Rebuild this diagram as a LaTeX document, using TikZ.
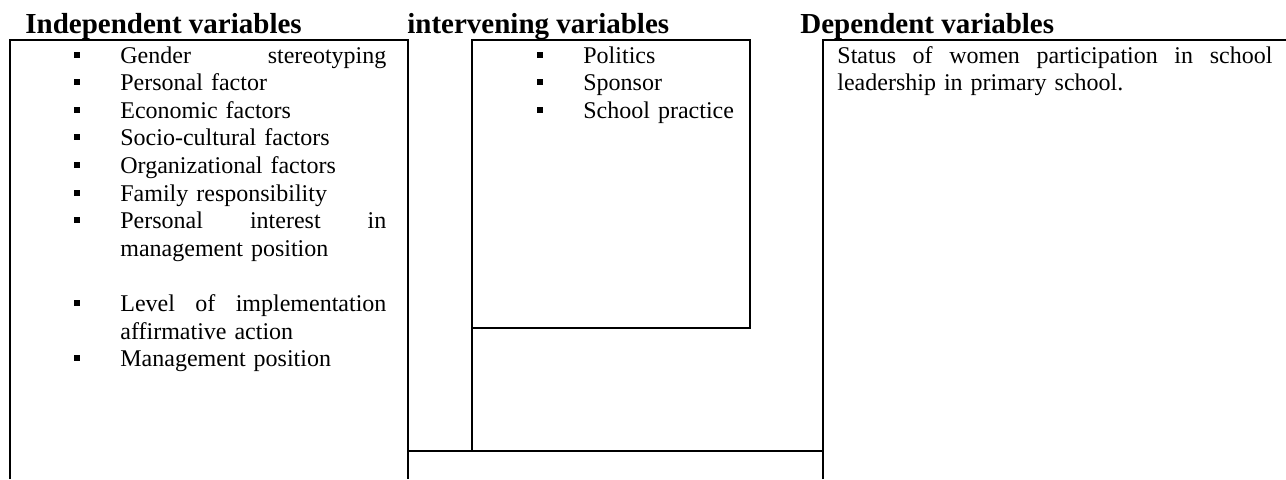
\documentclass[tikz,border=0pt]{standalone}
\usepackage{fontspec}
\setmainfont{Liberation Serif}

\tikzset{
  heading/.style={anchor=base west, inner sep=0pt, font=\fontsize{14.5}{17}\selectfont\bfseries},
  entry/.style={anchor=base west, inner sep=0pt, align=left, text width=#1,
    font=\fontsize{12}{13.8}\selectfont},
  entry/.default=133pt,
  square/.style={fill, inner sep=0pt, minimum size=3pt},
  frame/.style={line width=0.75pt}
}

\begin{document}
\begin{tikzpicture}[x=0.5pt,y=-0.5pt]
    \useasboundingbox (0,0) rectangle (1286,479);

    % column headings
    \node[heading] (indep) at (25,33) {Independent variables};
    \node[heading] (interv) at (407,33) {intervening variables};
    \node[heading] (dep) at (800,33) {Dependent variables};

    % the frames
    \draw[frame] (10,479) -- (10,40) -- (408,40) -- (408,479);
    \draw[frame] (472,451) -- (472,40) -- (750,40) -- (750,328) -- (472,328);
    \draw[frame] (408,451) -- (823,451);
    \draw[frame] (823,479) -- (823,40) -- (1286,40);

    % independent variables
    \foreach \k in {0,...,6,9,11}
        \node[square] (ib\k) at (77,{54.5+27.6*\k}) {};
    \node[entry] (gender) at (120,63) {Gender\hfill stereotyping};
    \node[entry] (personal) at (120,90.6) {Personal factor};
    \node[entry] (economic) at (120,118.2) {Economic factors};
    \node[entry] (socio) at (120,145.8) {Socio-cultural factors};
    \node[entry] (organ) at (120,173.4) {Organizational factors};
    \node[entry] (family) at (120,201) {Family responsibility};
    \node[entry] (interest) at (120,228.6) {Personal\hfill interest\hfill in\\management position};
    \node[entry] (level) at (120,311.4) {Level\hfill of\hfill implementation\\affirmative action};
    \node[entry] (manage) at (120,366.6) {Management position};

    % intervening variables
    \foreach \k in {0,1,2}
        \node[square] (vb\k) at (540,{54.5+27.6*\k}) {};
    \node[entry] (politics) at (583,63) {Politics};
    \node[entry] (sponsor) at (583,90.6) {Sponsor};
    \node[entry] (practice) at (583,118.2) {School practice};

    % dependent variable
    \node[entry=217.5pt] (status) at (837,63)
        {Status\hfill of\hfill women\hfill participation\hfill in\hfill school\\leadership in primary school.};
\end{tikzpicture}
\end{document}
